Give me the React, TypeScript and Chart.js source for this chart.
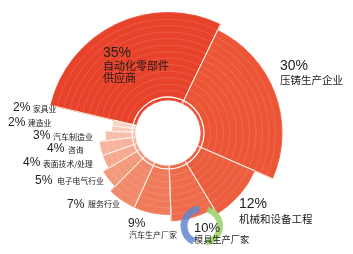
import { useEffect, useRef } from "react";
import { Chart, registerables } from "chart.js";

Chart.register(...registerables);

// ---- data ----
const categories = [
  "自动化零部件|供应商",
  "压铸生产企业",
  "机械和设备工程",
  "模具生产厂家",
  "汽车生产厂家",
  "服务行业",
  "电子电气行业",
  "表面技术/处理",
  "咨询",
  "汽车制造业",
  "建造业",
  "家具业",
];
const shares = [35, 30, 12, 10, 9, 7, 5, 4, 4, 3, 2, 2];
// number of rings each slice reaches
const ringDepth = [13, 12, 9, 8, 7, 7, 6, 5, 5, 4, 3, 3];

// ---- styles / layout ----
const sliceColors = [
  "#E8422A",
  "#EC5535",
  "#EC5E3E",
  "#EE6C4C",
  "#EF7A5A",
  "#F18A6A",
  "#F39A7C",
  "#F5A98E",
  "#F6B49C",
  "#F7BFAA",
  "#F8C9B7",
  "#FAD2C3",
];
const RINGS = 13;
const TRANSPARENT = "rgba(0,0,0,0)";

function lighten(hex: string, t: number) {
  const n = parseInt(hex.slice(1), 16);
  const r = (n >> 16) & 255, g = (n >> 8) & 255, b = n & 255;
  const m = (c: number) => Math.round(c + (255 - c) * t);
  return `rgb(${m(r)},${m(g)},${m(b)})`;
}

// [x, baseline, fontSize] for percent numbers
const numLayout: [number, number, number][] = [
  [103, 57, 14],
  [280, 69.5, 14],
  [239, 208, 14],
  [194, 232, 13],
  [128, 227, 12],
  [67, 208, 12],
  [35, 184, 12],
  [23, 166, 12],
  [47, 152, 12],
  [33, 139, 12],
  [8, 126, 12],
  [13, 111, 12],
];
// [x, middleY, fontSize, lineGap] for category names
const textLayout: [number, number, number, number][] = [
  [103, 65.5, 11, 12],
  [280, 80.5, 10.5, 0],
  [239, 219, 10.5, 0],
  [194, 240, 9.2, 0],
  [129, 234.5, 8, 0],
  [88, 204, 8, 0],
  [57, 181.5, 7.8, 0],
  [43, 164.5, 7.8, 0],
  [68, 150.5, 7.8, 0],
  [53, 136.5, 8, 0],
  [28, 123.5, 7.8, 0],
  [33, 109.5, 7.8, 0],
];

const decorPlugin = {
  id: "decor",
  afterDatasetsDraw(chart: any) {
    const ctx = chart.ctx;
    ctx.save();
    // radial separators between slices
    ctx.strokeStyle = "rgba(255,238,230,0.95)";
    ctx.lineWidth = 1;
    const n = chart.data.datasets.length;
    for (let d = 0; d < n; d++) {
      const meta = chart.getDatasetMeta(d);
      const bgs = chart.data.datasets[d].backgroundColor as string[];
      meta.data.forEach((arc: any, i: number) => {
        if (bgs[i] === TRANSPARENT) return;
        const { x, y, startAngle, endAngle, innerRadius, outerRadius } = arc;
        [startAngle, endAngle].forEach((a: number) => {
          ctx.beginPath();
          ctx.moveTo(x + Math.cos(a) * innerRadius, y + Math.sin(a) * innerRadius);
          ctx.lineTo(x + Math.cos(a) * outerRadius, y + Math.sin(a) * outerRadius);
          ctx.stroke();
        });
      });
    }
    // white ring just outside the hole
    const innerMeta = chart.getDatasetMeta(n - 1);
    ctx.strokeStyle = "rgba(255,255,255,0.95)";
    ctx.lineWidth = 1.3;
    innerMeta.data.forEach((arc: any) => {
      ctx.beginPath();
      ctx.arc(arc.x, arc.y, arc.outerRadius, arc.startAngle, arc.endAngle);
      ctx.stroke();
    });
    ctx.restore();
  },
  afterDraw(chart: any) {
    const ctx = chart.ctx;
    ctx.save();
    // watermark logo
    const cx = 201, cy = 226, r = 17;
    ctx.lineCap = "butt";
    ctx.lineWidth = 7;
    ctx.strokeStyle = "rgba(100,135,205,0.85)";
    ctx.beginPath();
    ctx.arc(cx, cy, r, (-95 * Math.PI) / 180, (115 * Math.PI) / 180, true);
    ctx.stroke();
    ctx.strokeStyle = "rgba(150,210,100,0.85)";
    ctx.lineWidth = 6;
    ctx.beginPath();
    ctx.arc(cx + 2, cy, r, (-75 * Math.PI) / 180, (80 * Math.PI) / 180, false);
    ctx.stroke();

    // labels
    shares.forEach((v, i) => {
      const [nx, ny, ns] = numLayout[i];
      ctx.fillStyle = "#222";
      ctx.textBaseline = "alphabetic";
      ctx.textAlign = "left";
      ctx.font = `${ns}px 'Liberation Sans Narrow', 'Liberation Sans', Arial, sans-serif`;
      ctx.fillText(`${v}%`, nx, ny);
      const [tx, ty, ts, gap] = textLayout[i];
      ctx.fillStyle = "#1a1a1a";
      ctx.textBaseline = "middle";
      ctx.font = `${ts}px 'Noto Sans CJK SC', sans-serif`;
      categories[i].split("|").forEach((line, j) => {
        ctx.fillText(line, tx, ty + j * gap);
      });
    });
    ctx.restore();
  },
};

export default function App() {
  const ref = useRef<HTMLCanvasElement | null>(null);
  useEffect(() => {
    if (!ref.current) return;
    const datasets: any[] = [];
    for (let k = 0; k < RINGS; k++) {
      const level = RINGS - k;
      datasets.push({
        data: shares,
        backgroundColor: shares.map((_, i) => (ringDepth[i] >= level ? sliceColors[i] : TRANSPARENT)),
        borderColor: shares.map((_, i) => (ringDepth[i] >= level ? lighten(sliceColors[i], 0.1) : TRANSPARENT)),
        borderWidth: 1,
        weight: 1,
      });
    }
    datasets.push({
      data: shares,
      backgroundColor: sliceColors,
      borderColor: sliceColors.map((c) => lighten(c, 0.1)),
      borderWidth: 1,
      weight: 0.45,
    });
    const chart = new Chart(ref.current, {
      type: "doughnut",
      data: { labels: categories, datasets },
      options: {
        animation: false,
        responsive: false,
        maintainAspectRatio: false,
        cutout: 33,
        rotation: -76.7,
        layout: { padding: { left: 47, right: 64, top: 12, bottom: 0 } },
        plugins: { legend: { display: false }, tooltip: { enabled: false } },
        events: [],
      } as any,
      plugins: [decorPlugin],
    });
    return () => chart.destroy();
  }, []);
  return (
    <div style={{ position: "fixed", left: 0, top: 0, width: 353, height: 254, background: "#fff" }}>
      <canvas ref={ref} width={353} height={254} style={{ width: 353, height: 254, display: "block" }} />
    </div>
  );
}
